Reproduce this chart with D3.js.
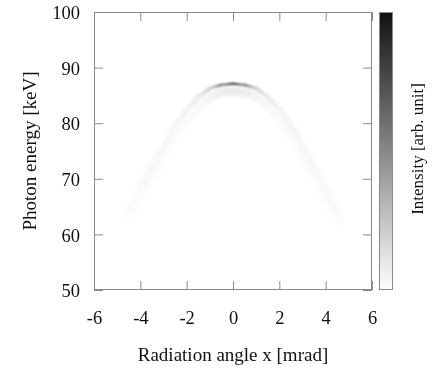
<!DOCTYPE html>
<html>
<head>
<meta charset="utf-8">
<script src="https://cdn.jsdelivr.net/npm/d3@7"></script>
<style>
  html, body { margin: 0; padding: 0; background: #fff; }
  svg text { font-family: "Liberation Serif", "Times New Roman", Times, "DejaVu Serif", serif; }
</style>
</head>
<body>
<svg id="chart" width="441" height="368"></svg>
<script>
// Emission angle samples [mrad]
const angles = [-4.8, -4.5, -4, -3.5, -3, -2.5, -2, -1.5, -1, -0.5, 0, 0.5, 1, 1.5, 2, 2.5, 3, 3.5, 4, 4.5, 4.8];
// Photon energy of the main (outer) ridge [keV]
const outerEnergy = [61.4, 64.2, 68.3, 72.3, 76.0, 79.8, 82.6, 84.8, 86.3, 86.9, 87.1, 86.9, 86.3, 84.8, 82.6, 79.8, 76.0, 72.3, 68.3, 64.2, 61.4];
// Relative intensity along the main ridge
const outerIntensity = [0.0, 0.01, 0.013, 0.016, 0.02, 0.025, 0.038, 0.07, 0.2, 0.62, 1.0, 0.62, 0.2, 0.07, 0.042, 0.03, 0.024, 0.019, 0.015, 0.011, 0.0];
// Spectral width of the main ridge [keV]
const outerWidth = [1.8, 1.7, 1.6, 1.5, 1.4, 1.2, 1.0, 0.8, 0.55, 0.35, 0.3, 0.35, 0.55, 0.8, 1.0, 1.2, 1.4, 1.5, 1.6, 1.7, 1.8];
// Photon energy of the weaker (inner) ridge [keV]
const innerEnergy = [60.2, 62.8, 66.8, 70.7, 74.5, 78.2, 81.0, 83.2, 84.8, 85.6, 85.8, 85.6, 84.8, 83.2, 81.0, 78.2, 74.5, 70.7, 66.8, 62.8, 60.2];
// Relative intensity along the inner ridge
const innerIntensity = [0.0, 0.006, 0.009, 0.011, 0.013, 0.016, 0.02, 0.03, 0.05, 0.08, 0.09, 0.08, 0.05, 0.03, 0.022, 0.018, 0.015, 0.012, 0.01, 0.007, 0.0];
// Spectral width of the inner ridge [keV]
const innerWidth = [2.2, 2.2, 2.2, 2.1, 2.0, 2.0, 1.9, 1.8, 1.7, 1.6, 1.5, 1.6, 1.7, 1.8, 1.9, 2.0, 2.0, 2.1, 2.2, 2.2, 2.2];

const xTicks = [-6, -4, -2, 0, 2, 4, 6];
const yTicks = [50, 60, 70, 80, 90, 100];
const xDomain = [-6, 6];
const yDomain = [50, 100];

const serif = '"Liberation Serif", "Times New Roman", Times, "DejaVu Serif", serif';
const svg = d3.select("#chart");
const plot = { left: 94, right: 372, top: 12, bottom: 290 };

const x = d3.scaleLinear().domain(xDomain).range([plot.left, plot.right]);
const y = d3.scaleLinear().domain(yDomain).range([plot.bottom, plot.top]);
const color = d3.scaleLinear().domain([0, 1]).range(["#ffffff", "#111111"]).interpolate(d3.interpolateRgb);
const barScale = d3.scaleLinear().domain([0, 1]).range([plot.bottom, plot.top]);

const defs = svg.append("defs");
defs.append("clipPath").attr("id", "plotClip")
  .append("rect")
  .attr("x", plot.left).attr("y", plot.top)
  .attr("width", plot.right - plot.left).attr("height", plot.bottom - plot.top);

defs.append("filter").attr("id", "soft")
  .attr("x", "-20%").attr("y", "-20%").attr("width", "140%").attr("height", "140%")
  .append("feGaussianBlur").attr("stdDeviation", 0.8);
defs.append("filter").attr("id", "haze")
  .attr("x", "-20%").attr("y", "-20%").attr("width", "140%").attr("height", "140%")
  .append("feGaussianBlur").attr("stdDeviation", 2.2);

const heatRoot = svg.append("g").attr("clip-path", "url(#plotClip)");

const pxPerKeV = Math.abs(y(1) - y(0));
let gid = 0;
// Intensity ridge drawn as graded, blurred stroke segments
function drawRidge(energy, intensity, width, filterId) {
  const layer = heatRoot.append("g")
    .style("mix-blend-mode", "multiply")
    .attr("filter", `url(#${filterId})`);
  for (let i = 0; i < angles.length - 1; i++) {
    const x1 = x(angles[i]), y1 = y(energy[i]);
    const x2 = x(angles[i + 1]), y2 = y(energy[i + 1]);
    const id = "seg" + (gid++);
    const g = defs.append("linearGradient").attr("id", id)
      .attr("gradientUnits", "userSpaceOnUse")
      .attr("x1", x1).attr("y1", y1).attr("x2", x2).attr("y2", y2);
    g.append("stop").attr("offset", 0).attr("stop-color", color(intensity[i]));
    g.append("stop").attr("offset", 1).attr("stop-color", color(intensity[i + 1]));
    layer.append("line")
      .attr("x1", x1).attr("y1", y1).attr("x2", x2).attr("y2", y2)
      .attr("stroke", `url(#${id})`)
      .attr("stroke-width", pxPerKeV * (width[i] + width[i + 1]) / 2)
      .attr("stroke-linecap", "round");
  }
}
drawRidge(innerEnergy, innerIntensity, innerWidth, "haze");
drawRidge(outerEnergy, outerIntensity, outerWidth, "soft");

// Frame
const frameColor = "#8a8a8a";
svg.append("rect")
  .attr("x", plot.left + 0.5).attr("y", plot.top + 0.5)
  .attr("width", plot.right - plot.left - 1).attr("height", plot.bottom - plot.top - 1)
  .attr("fill", "none").attr("stroke", frameColor).attr("stroke-width", 1);

// Inward ticks on all four sides
const tickLen = 9;
const axisBottom = d3.axisBottom(x).tickValues(xTicks).tickSize(tickLen).tickFormat(d => d);
const axisTop = d3.axisTop(x).tickValues(xTicks).tickSize(tickLen).tickFormat("");
const axisLeft = d3.axisLeft(y).tickValues(yTicks).tickSize(tickLen).tickFormat(d => d);
const axisRight = d3.axisRight(y).tickValues(yTicks).tickSize(tickLen).tickFormat("");

function styleAxis(g) {
  g.attr("font-family", serif);
  g.select(".domain").remove();
  g.selectAll(".tick line").attr("stroke", frameColor);
  g.selectAll(".tick text").attr("fill", "#111")
    .attr("font-family", serif).attr("font-size", "18.5px");
}

const gb = svg.append("g").attr("transform", `translate(0,${plot.bottom})`).call(axisBottom).call(styleAxis);
gb.selectAll(".tick line").attr("y2", -tickLen);
gb.selectAll(".tick text").attr("y", 33.5).attr("dy", 0);

const gt = svg.append("g").attr("transform", `translate(0,${plot.top})`).call(axisTop).call(styleAxis);
gt.selectAll(".tick line").attr("y2", tickLen);

const gl = svg.append("g").attr("transform", `translate(${plot.left},0)`).call(axisLeft).call(styleAxis);
gl.selectAll(".tick line").attr("x2", tickLen);
gl.selectAll(".tick text").attr("x", -14).attr("dy", "0.36em");

const gr = svg.append("g").attr("transform", `translate(${plot.right},0)`).call(axisRight).call(styleAxis);
gr.selectAll(".tick line").attr("x2", -tickLen);

// Axis titles
svg.append("text")
  .attr("x", (plot.left + plot.right) / 2).attr("y", 361)
  .attr("text-anchor", "middle").attr("fill", "#111")
  .attr("font-family", serif).attr("font-size", "19px")
  .text("Radiation angle x [mrad]");

svg.append("text")
  .attr("transform", "translate(36,151) rotate(-90)")
  .attr("text-anchor", "middle").attr("fill", "#111")
  .attr("font-family", serif).attr("font-size", "19px")
  .text("Photon energy [keV]");

// Colour bar
const bar = { left: 379, right: 393 };
const cg = defs.append("linearGradient").attr("id", "cbar")
  .attr("gradientUnits", "userSpaceOnUse")
  .attr("x1", 0).attr("x2", 0).attr("y1", barScale(0)).attr("y2", barScale(1));
d3.range(0, 1.0001, 0.1).forEach(t => {
  cg.append("stop").attr("offset", t).attr("stop-color", color(t));
});
svg.append("rect")
  .attr("x", bar.left + 0.5).attr("y", barScale(1) + 0.5)
  .attr("width", bar.right - bar.left - 1).attr("height", barScale(0) - barScale(1) - 1)
  .attr("fill", "url(#cbar)").attr("stroke", frameColor).attr("stroke-width", 1);

svg.append("text")
  .attr("transform", "translate(423,149) rotate(-90)")
  .attr("text-anchor", "middle").attr("fill", "#111")
  .attr("font-family", serif).attr("font-size", "17px")
  .text("Intensity [arb. unit]");
</script>
</body>
</html>
